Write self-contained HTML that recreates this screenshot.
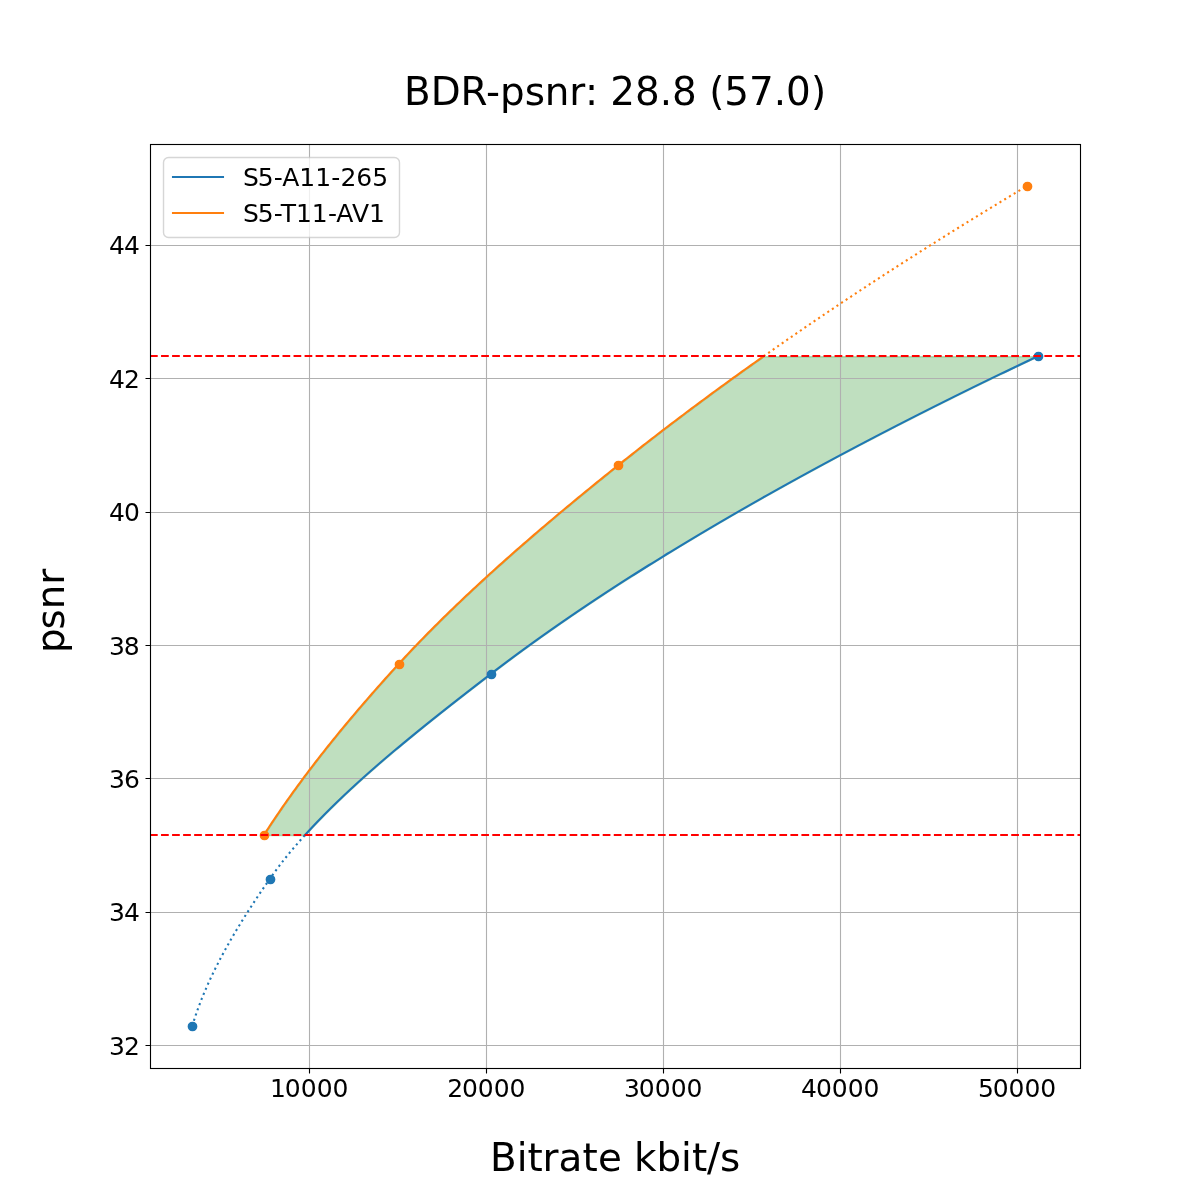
<!DOCTYPE html>
<html lang="en"><head><meta charset="utf-8"><title>BDR-psnr: 28.8 (57.0)</title>
<style>html,body{margin:0;padding:0;background:#fff}svg{display:block}text{font-family:"DejaVu Sans","Liberation Sans",sans-serif;fill:#000}</style></head><body>
<svg width="1200" height="1200" viewBox="0 0 1200 1200">
<rect width="1200" height="1200" fill="#fff"/>
<defs><clipPath id="ax"><rect x="150.5" y="144.5" width="930.0" height="924.0"/></clipPath></defs>
<path d="M264.4 835.5 L265.95 833.09 L267.51 830.69 L269.08 828.28 L270.66 825.88 L272.25 823.47 L273.86 821.06 L275.47 818.66 L277.1 816.25 L278.73 813.85 L280.38 811.44 L282.03 809.03 L283.7 806.63 L285.38 804.22 L287.07 801.82 L288.77 799.41 L290.48 797 L292.2 794.6 L293.93 792.19 L295.67 789.79 L297.42 787.38 L299.18 784.97 L300.95 782.57 L302.73 780.16 L304.52 777.76 L306.33 775.35 L308.14 772.94 L309.96 770.54 L311.79 768.13 L313.63 765.73 L315.48 763.32 L317.34 760.91 L319.2 758.51 L321.08 756.1 L322.97 753.69 L324.87 751.29 L326.77 748.88 L328.69 746.48 L330.61 744.07 L332.55 741.66 L334.49 739.26 L336.44 736.85 L338.4 734.45 L340.37 732.04 L342.35 729.63 L344.34 727.23 L346.34 724.82 L348.34 722.42 L350.36 720.01 L352.38 717.6 L354.41 715.2 L356.45 712.79 L358.5 710.39 L360.56 707.98 L362.62 705.57 L364.7 703.17 L366.78 700.76 L368.87 698.36 L370.97 695.95 L373.07 693.54 L375.19 691.14 L377.31 688.73 L379.44 686.33 L381.58 683.92 L383.72 681.51 L385.88 679.11 L388.04 676.7 L390.21 674.3 L392.38 671.89 L394.57 669.48 L396.76 667.08 L398.96 664.67 L401.17 662.27 L403.39 659.86 L405.63 657.45 L407.88 655.05 L410.14 652.64 L412.41 650.24 L414.7 647.83 L417 645.42 L419.32 643.02 L421.65 640.61 L423.98 638.21 L426.34 635.8 L428.7 633.39 L431.08 630.99 L433.47 628.58 L435.87 626.18 L438.28 623.77 L440.71 621.36 L443.15 618.96 L445.6 616.55 L448.06 614.15 L450.53 611.74 L453.02 609.33 L455.51 606.93 L458.02 604.52 L460.54 602.12 L463.07 599.71 L465.61 597.3 L468.16 594.9 L470.72 592.49 L473.3 590.08 L475.88 587.68 L478.48 585.27 L481.08 582.87 L483.7 580.46 L486.32 578.05 L488.96 575.65 L491.6 573.24 L494.26 570.84 L496.93 568.43 L499.6 566.02 L502.29 563.62 L504.99 561.21 L507.69 558.81 L510.41 556.4 L513.13 553.99 L515.86 551.59 L518.61 549.18 L521.36 546.78 L524.12 544.37 L526.89 541.96 L529.67 539.56 L532.45 537.15 L535.25 534.75 L538.05 532.34 L540.87 529.93 L543.69 527.53 L546.52 525.12 L549.35 522.72 L552.2 520.31 L555.05 517.9 L557.91 515.5 L560.78 513.09 L563.66 510.69 L566.55 508.28 L569.44 505.87 L572.34 503.47 L575.24 501.06 L578.16 498.66 L581.08 496.25 L584.01 493.84 L586.94 491.44 L589.88 489.03 L592.83 486.63 L595.79 484.22 L598.75 481.81 L601.72 479.41 L604.69 477 L607.67 474.6 L610.66 472.19 L613.66 469.78 L616.66 467.38 L619.66 464.97 L622.68 462.57 L625.7 460.16 L628.73 457.75 L631.77 455.35 L634.82 452.94 L637.88 450.54 L640.95 448.13 L644.03 445.72 L647.11 443.32 L650.21 440.91 L653.31 438.51 L656.43 436.1 L659.55 433.69 L662.68 431.29 L665.82 428.88 L668.97 426.47 L672.13 424.07 L675.3 421.66 L678.47 419.26 L681.66 416.85 L684.85 414.44 L688.06 412.04 L691.27 409.63 L694.49 407.23 L697.72 404.82 L700.96 402.41 L704.21 400.01 L707.47 397.6 L710.73 395.2 L714.01 392.79 L717.29 390.38 L720.59 387.98 L723.89 385.57 L727.2 383.17 L730.52 380.76 L733.85 378.35 L737.18 375.95 L740.53 373.54 L743.89 371.14 L747.25 368.73 L750.62 366.32 L754.01 363.92 L757.4 361.51 L760.8 359.11 L764.2 356.7 L1038.23 356.7 L1033.16 359.11 L1028.1 361.51 L1023.05 363.92 L1018.01 366.32 L1012.99 368.73 L1007.99 371.14 L1002.99 373.54 L998.01 375.95 L993.05 378.35 L988.09 380.76 L983.15 383.17 L978.23 385.57 L973.32 387.98 L968.42 390.38 L963.53 392.79 L958.66 395.2 L953.8 397.6 L948.96 400.01 L944.12 402.41 L939.31 404.82 L934.5 407.23 L929.71 409.63 L924.94 412.04 L920.18 414.44 L915.43 416.85 L910.69 419.26 L905.97 421.66 L901.26 424.07 L896.57 426.47 L891.89 428.88 L887.23 431.29 L882.58 433.69 L877.94 436.1 L873.31 438.51 L868.71 440.91 L864.11 443.32 L859.53 445.72 L854.96 448.13 L850.41 450.54 L845.87 452.94 L841.34 455.35 L836.83 457.75 L832.34 460.16 L827.86 462.57 L823.39 464.97 L818.93 467.38 L814.49 469.78 L810.07 472.19 L805.66 474.6 L801.26 477 L796.88 479.41 L792.51 481.81 L788.16 484.22 L783.82 486.63 L779.49 489.03 L775.18 491.44 L770.89 493.84 L766.61 496.25 L762.34 498.66 L758.09 501.06 L753.85 503.47 L749.63 505.87 L745.42 508.28 L741.23 510.69 L737.05 513.09 L732.88 515.5 L728.73 517.9 L724.6 520.31 L720.48 522.72 L716.37 525.12 L712.28 527.53 L708.21 529.93 L704.15 532.34 L700.1 534.75 L696.07 537.15 L692.05 539.56 L688.05 541.96 L684.06 544.37 L680.09 546.78 L676.14 549.18 L672.19 551.59 L668.27 553.99 L664.36 556.4 L660.46 558.81 L656.58 561.21 L652.71 563.62 L648.86 566.02 L645.02 568.43 L641.2 570.84 L637.4 573.24 L633.61 575.65 L629.83 578.05 L626.07 580.46 L622.33 582.87 L618.6 585.27 L614.88 587.68 L611.19 590.08 L607.5 592.49 L603.84 594.9 L600.18 597.3 L596.55 599.71 L592.92 602.12 L589.32 604.52 L585.73 606.93 L582.15 609.33 L578.59 611.74 L575.05 614.15 L571.52 616.55 L568.01 618.96 L564.51 621.36 L561.03 623.77 L557.56 626.18 L554.11 628.58 L550.68 630.99 L547.26 633.39 L543.86 635.8 L540.47 638.21 L537.1 640.61 L533.74 643.02 L530.4 645.42 L527.08 647.83 L523.77 650.24 L520.48 652.64 L517.2 655.05 L513.94 657.45 L510.7 659.86 L507.47 662.27 L504.26 664.67 L501.06 667.08 L497.88 669.48 L494.71 671.89 L491.57 674.3 L488.43 676.7 L485.3 679.11 L482.17 681.51 L479.04 683.92 L475.93 686.33 L472.81 688.73 L469.7 691.14 L466.6 693.54 L463.51 695.95 L460.42 698.36 L457.34 700.76 L454.26 703.17 L451.2 705.57 L448.14 707.98 L445.09 710.39 L442.04 712.79 L439.01 715.2 L435.99 717.6 L432.97 720.01 L429.97 722.42 L426.97 724.82 L423.99 727.23 L421.02 729.63 L418.05 732.04 L415.1 734.45 L412.16 736.85 L409.23 739.26 L406.32 741.66 L403.42 744.07 L400.53 746.48 L397.65 748.88 L394.79 751.29 L391.94 753.69 L389.1 756.1 L386.28 758.51 L383.48 760.91 L380.69 763.32 L377.91 765.73 L375.15 768.13 L372.41 770.54 L369.68 772.94 L366.97 775.35 L364.28 777.76 L361.6 780.16 L358.95 782.57 L356.31 784.97 L353.68 787.38 L351.08 789.79 L348.5 792.19 L345.93 794.6 L343.38 797 L340.86 799.41 L338.35 801.82 L335.87 804.22 L333.4 806.63 L330.96 809.03 L328.54 811.44 L326.14 813.85 L323.76 816.25 L321.4 818.66 L319.07 821.06 L316.76 823.47 L314.47 825.88 L312.21 828.28 L309.97 830.69 L307.75 833.09 L305.56 835.5Z" fill="#008000" fill-opacity="0.25" stroke="#008000" stroke-opacity="0.25" stroke-width="1.39"/>
<path d="M309.5 144.5 V1068.5 M486.5 144.5 V1068.5 M663.5 144.5 V1068.5 M840.5 144.5 V1068.5 M1017.5 144.5 V1068.5 M150.5 1045.5 H1080.5 M150.5 912.5 H1080.5 M150.5 778.5 H1080.5 M150.5 645.5 H1080.5 M150.5 512.5 H1080.5 M150.5 378.5 H1080.5 M150.5 245.5 H1080.5" stroke="#b0b0b0" stroke-width="1.11" fill="none"/>
<path d="M309.5 1068.5 v5 M486.5 1068.5 v5 M663.5 1068.5 v5 M840.5 1068.5 v5 M1017.5 1068.5 v5 M150.5 1045.5 h-5 M150.5 912.5 h-5 M150.5 778.5 h-5 M150.5 645.5 h-5 M150.5 512.5 h-5 M150.5 378.5 h-5 M150.5 245.5 h-5" stroke="#000" stroke-width="1.11" fill="none"/>
<g clip-path="url(#ax)" fill="none" stroke="#1f77b4" stroke-width="2.08" stroke-linejoin="round">
<path d="M305.06 835 L307.11 832.75 L309.18 830.5 L311.26 828.26 L313.37 826.01 L315.5 823.76 L317.65 821.51 L319.83 819.26 L322.02 817.02 L324.23 814.77 L326.46 812.52 L328.71 810.27 L330.97 808.03 L333.26 805.78 L335.56 803.53 L337.89 801.28 L340.23 799.03 L342.59 796.79 L344.96 794.54 L347.36 792.29 L349.76 790.04 L352.19 787.79 L354.63 785.55 L357.09 783.3 L359.57 781.05 L362.06 778.8 L364.56 776.55 L367.08 774.31 L369.62 772.06 L372.17 769.81 L374.73 767.56 L377.31 765.32 L379.9 763.07 L382.5 760.82 L385.12 758.57 L387.75 756.32 L390.4 754.08 L393.06 751.83 L395.72 749.58 L398.4 747.33 L401.1 745.08 L403.8 742.84 L406.52 740.59 L409.24 738.34 L411.98 736.09 L414.73 733.85 L417.48 731.6 L420.25 729.35 L423.03 727.1 L425.81 724.85 L428.61 722.61 L431.41 720.36 L434.23 718.11 L437.05 715.86 L439.88 713.61 L442.72 711.37 L445.56 709.12 L448.41 706.87 L451.27 704.62 L454.14 702.37 L457.01 700.13 L459.89 697.88 L462.78 695.63 L465.67 693.38 L468.56 691.14 L471.47 688.89 L474.37 686.64 L477.28 684.39 L480.2 682.14 L483.12 679.9 L486.05 677.65 L488.97 675.4 L491.91 673.15 L494.85 670.9 L497.81 668.66 L500.78 666.41 L503.77 664.16 L506.77 661.91 L509.79 659.66 L512.81 657.42 L515.86 655.17 L518.91 652.92 L521.98 650.67 L525.07 648.43 L528.17 646.18 L531.28 643.93 L534.41 641.68 L537.54 639.43 L540.7 637.19 L543.87 634.94 L547.05 632.69 L550.24 630.44 L553.45 628.19 L556.67 625.95 L559.91 623.7 L563.16 621.45 L566.42 619.2 L569.7 616.95 L572.99 614.71 L576.29 612.46 L579.61 610.21 L582.94 607.96 L586.29 605.72 L589.65 603.47 L593.02 601.22 L596.4 598.97 L599.8 596.72 L603.21 594.48 L606.64 592.23 L610.08 589.98 L613.53 587.73 L617 585.48 L620.48 583.24 L623.97 580.99 L627.48 578.74 L631 576.49 L634.53 574.25 L638.08 572 L641.64 569.75 L645.21 567.5 L648.79 565.25 L652.39 563.01 L656.01 560.76 L659.63 558.51 L663.27 556.26 L666.92 554.01 L670.59 551.77 L674.26 549.52 L677.96 547.27 L681.66 545.02 L685.38 542.77 L689.11 540.53 L692.85 538.28 L696.61 536.03 L700.38 533.78 L704.16 531.54 L707.95 529.29 L711.76 527.04 L715.58 524.79 L719.42 522.54 L723.27 520.3 L727.13 518.05 L731 515.8 L734.88 513.55 L738.78 511.3 L742.69 509.06 L746.62 506.81 L750.55 504.56 L754.5 502.31 L758.47 500.06 L762.44 497.82 L766.43 495.57 L770.43 493.32 L774.44 491.07 L778.47 488.83 L782.51 486.58 L786.56 484.33 L790.62 482.08 L794.7 479.83 L798.78 477.59 L802.89 475.34 L807 473.09 L811.13 470.84 L815.26 468.59 L819.42 466.35 L823.58 464.1 L827.75 461.85 L831.94 459.6 L836.14 457.35 L840.36 455.11 L844.58 452.86 L848.82 450.61 L853.07 448.36 L857.33 446.12 L861.61 443.87 L865.9 441.62 L870.19 439.37 L874.51 437.12 L878.83 434.88 L883.17 432.63 L887.51 430.38 L891.87 428.13 L896.25 425.88 L900.63 423.64 L905.03 421.39 L909.44 419.14 L913.86 416.89 L918.29 414.65 L922.74 412.4 L927.19 410.15 L931.66 407.9 L936.14 405.65 L940.64 403.41 L945.14 401.16 L949.66 398.91 L954.19 396.66 L958.73 394.41 L963.28 392.17 L967.85 389.92 L972.42 387.67 L977.01 385.42 L981.61 383.17 L986.22 380.93 L990.85 378.68 L995.48 376.43 L1000.13 374.18 L1004.79 371.94 L1009.46 369.69 L1014.14 367.44 L1018.84 365.19 L1023.54 362.94 L1028.26 360.7 L1032.99 358.45 L1037.73 356.2" stroke-linecap="square"/>
<path d="M192.27 1026 L192.95 1023.73 L193.66 1021.45 L194.38 1019.18 L195.13 1016.9 L195.89 1014.63 L196.68 1012.36 L197.48 1010.08 L198.3 1007.81 L199.14 1005.54 L200 1003.26 L200.88 1000.99 L201.78 998.71 L202.69 996.44 L203.63 994.17 L204.58 991.89 L205.55 989.62 L206.53 987.35 L207.54 985.07 L208.56 982.8 L209.59 980.52 L210.65 978.25 L211.72 975.98 L212.8 973.7 L213.9 971.43 L215.02 969.15 L216.15 966.88 L217.3 964.61 L218.47 962.33 L219.64 960.06 L220.84 957.79 L222.04 955.51 L223.27 953.24 L224.5 950.96 L225.75 948.69 L227.01 946.42 L228.29 944.14 L229.58 941.87 L230.88 939.6 L232.2 937.32 L233.53 935.05 L234.87 932.77 L236.22 930.5 L237.59 928.23 L238.96 925.95 L240.35 923.68 L241.75 921.4 L243.16 919.13 L244.59 916.86 L246.02 914.58 L247.46 912.31 L248.92 910.04 L250.38 907.76 L251.86 905.49 L253.34 903.21 L254.83 900.94 L256.34 898.67 L257.85 896.39 L259.37 894.12 L260.9 891.85 L262.44 889.57 L263.99 887.3 L265.54 885.02 L267.11 882.75 L268.68 880.48 L270.26 878.2 L271.86 875.93 L273.49 873.65 L275.14 871.38 L276.83 869.11 L278.54 866.83 L280.27 864.56 L282.03 862.29 L283.82 860.01 L285.63 857.74 L287.46 855.46 L289.33 853.19 L291.21 850.92 L293.12 848.64 L295.05 846.37 L297.01 844.1 L298.99 841.82 L300.99 839.55 L303.01 837.27 L305.06 835" stroke-dasharray="2.0833 3.4375"/>
</g>
<g fill="#1f77b4" stroke="#1f77b4" stroke-width="1.39">
<circle cx="192.5" cy="1026.5" r="4.17"/>
<circle cx="270.5" cy="879.5" r="4.17"/>
<circle cx="491.5" cy="674.5" r="4.17"/>
<circle cx="1038.5" cy="356.5" r="4.17"/>
</g>
<g clip-path="url(#ax)" fill="none" stroke="#ff7f0e" stroke-width="2.08" stroke-linejoin="round">
<path d="M263.9 835 L265.3 832.82 L266.71 830.65 L268.13 828.47 L269.55 826.29 L270.99 824.12 L272.44 821.94 L273.89 819.77 L275.35 817.59 L276.83 815.41 L278.31 813.24 L279.8 811.06 L281.29 808.88 L282.8 806.71 L284.32 804.53 L285.84 802.35 L287.37 800.18 L288.91 798 L290.46 795.83 L292.02 793.65 L293.59 791.47 L295.16 789.3 L296.75 787.12 L298.34 784.94 L299.94 782.77 L301.54 780.59 L303.16 778.41 L304.78 776.24 L306.42 774.06 L308.06 771.89 L309.71 769.71 L311.36 767.53 L313.03 765.36 L314.7 763.18 L316.38 761 L318.07 758.83 L319.76 756.65 L321.47 754.47 L323.18 752.3 L324.89 750.12 L326.62 747.95 L328.36 745.77 L330.1 743.59 L331.85 741.42 L333.6 739.24 L335.37 737.06 L337.14 734.89 L338.92 732.71 L340.7 730.53 L342.49 728.36 L344.29 726.18 L346.1 724.01 L347.92 721.83 L349.74 719.65 L351.57 717.48 L353.4 715.3 L355.25 713.12 L357.1 710.95 L358.95 708.77 L360.82 706.59 L362.69 704.42 L364.56 702.24 L366.45 700.07 L368.34 697.89 L370.24 695.71 L372.14 693.54 L374.05 691.36 L375.97 689.18 L377.89 687.01 L379.82 684.83 L381.76 682.65 L383.7 680.48 L385.65 678.3 L387.61 676.13 L389.57 673.95 L391.54 671.77 L393.51 669.6 L395.49 667.42 L397.48 665.24 L399.47 663.07 L401.47 660.89 L403.49 658.71 L405.51 656.54 L407.55 654.36 L409.6 652.19 L411.65 650.01 L413.72 647.83 L415.8 645.66 L417.89 643.48 L419.99 641.3 L422.1 639.13 L424.22 636.95 L426.35 634.77 L428.49 632.6 L430.64 630.42 L432.81 628.25 L434.98 626.07 L437.16 623.89 L439.35 621.72 L441.55 619.54 L443.76 617.36 L445.98 615.19 L448.21 613.01 L450.45 610.83 L452.7 608.66 L454.96 606.48 L457.22 604.31 L459.5 602.13 L461.78 599.95 L464.08 597.78 L466.38 595.6 L468.7 593.42 L471.02 591.25 L473.35 589.07 L475.69 586.89 L478.03 584.72 L480.39 582.54 L482.76 580.37 L485.13 578.19 L487.51 576.01 L489.9 573.84 L492.3 571.66 L494.71 569.48 L497.12 567.31 L499.54 565.13 L501.97 562.95 L504.41 560.78 L506.86 558.6 L509.31 556.43 L511.77 554.25 L514.24 552.07 L516.72 549.9 L519.2 547.72 L521.7 545.54 L524.2 543.37 L526.7 541.19 L529.22 539.01 L531.74 536.84 L534.27 534.66 L536.8 532.49 L539.34 530.31 L541.89 528.13 L544.45 525.96 L547.01 523.78 L549.58 521.6 L552.15 519.43 L554.73 517.25 L557.32 515.07 L559.92 512.9 L562.52 510.72 L565.13 508.55 L567.74 506.37 L570.36 504.19 L572.99 502.02 L575.62 499.84 L578.25 497.66 L580.9 495.49 L583.55 493.31 L586.2 491.13 L588.86 488.96 L591.53 486.78 L594.2 484.61 L596.88 482.43 L599.56 480.25 L602.25 478.08 L604.94 475.9 L607.64 473.72 L610.34 471.55 L613.05 469.37 L615.76 467.19 L618.48 465.02 L621.2 462.84 L623.93 460.67 L626.67 458.49 L629.42 456.31 L632.17 454.14 L634.93 451.96 L637.7 449.78 L640.48 447.61 L643.26 445.43 L646.05 443.25 L648.85 441.08 L651.66 438.9 L654.47 436.73 L657.29 434.55 L660.12 432.37 L662.95 430.2 L665.79 428.02 L668.64 425.84 L671.5 423.67 L674.37 421.49 L677.24 419.31 L680.12 417.14 L683 414.96 L685.9 412.79 L688.8 410.61 L691.71 408.43 L694.62 406.26 L697.55 404.08 L700.48 401.9 L703.41 399.73 L706.36 397.55 L709.31 395.37 L712.27 393.2 L715.24 391.02 L718.21 388.85 L721.2 386.67 L724.18 384.49 L727.18 382.32 L730.18 380.14 L733.2 377.96 L736.21 375.79 L739.24 373.61 L742.27 371.43 L745.31 369.26 L748.36 367.08 L751.41 364.91 L754.48 362.73 L757.54 360.55 L760.62 358.38 L763.7 356.2" stroke-linecap="square"/>
<path d="M763.7 356.2 L766.84 353.99 L769.99 351.78 L773.14 349.57 L776.31 347.36 L779.47 345.15 L782.65 342.94 L785.83 340.73 L789.03 338.52 L792.23 336.31 L795.43 334.1 L798.64 331.89 L801.87 329.68 L805.09 327.46 L808.33 325.25 L811.57 323.04 L814.82 320.83 L818.08 318.62 L821.35 316.41 L824.62 314.2 L827.9 311.99 L831.19 309.78 L834.49 307.57 L837.79 305.36 L841.1 303.15 L844.42 300.94 L847.74 298.73 L851.07 296.52 L854.41 294.31 L857.76 292.1 L861.11 289.89 L864.47 287.68 L867.84 285.47 L871.22 283.26 L874.6 281.05 L877.99 278.84 L881.39 276.63 L884.8 274.42 L888.21 272.21 L891.63 269.99 L895.06 267.78 L898.49 265.57 L901.94 263.36 L905.39 261.15 L908.84 258.94 L912.31 256.73 L915.78 254.52 L919.26 252.31 L922.74 250.1 L926.24 247.89 L929.74 245.68 L933.25 243.47 L936.76 241.26 L940.28 239.05 L943.81 236.84 L947.35 234.63 L950.9 232.42 L954.45 230.21 L958.01 228 L961.57 225.79 L965.15 223.58 L968.73 221.37 L972.31 219.16 L975.91 216.95 L979.51 214.74 L983.12 212.52 L986.74 210.31 L990.36 208.1 L993.99 205.89 L997.63 203.68 L1001.28 201.47 L1004.93 199.26 L1008.59 197.05 L1012.26 194.84 L1015.93 192.63 L1019.61 190.42 L1023.3 188.21 L1027 186" stroke-dasharray="2.0833 3.4375"/>
</g>
<g fill="#ff7f0e" stroke="#ff7f0e" stroke-width="1.39">
<circle cx="264.5" cy="835.5" r="4.17"/>
<circle cx="399.5" cy="664.5" r="4.17"/>
<circle cx="618.5" cy="465.5" r="4.17"/>
<circle cx="1027.5" cy="186.5" r="4.17"/>
</g>
<path d="M150 835 H1080" stroke="#ff0000" stroke-width="2.08" stroke-dasharray="7.7083 3.3333" fill="none"/>
<path d="M150 356 H1080" stroke="#ff0000" stroke-width="2.08" stroke-dasharray="7.7083 3.3333" fill="none"/>
<rect x="150.5" y="144.5" width="930.0" height="924.0" fill="none" stroke="#000" stroke-width="1.11" stroke-linejoin="miter"/>
<rect x="163.5" y="157.5" width="236" height="80" rx="5" ry="5" fill="#fff" stroke="#ccc" stroke-width="1.39" opacity="0.8"/>
<path d="M173 177 H223" stroke="#1f77b4" stroke-width="2.08" stroke-linecap="square" fill="none"/>
<path d="M173 213 H223" stroke="#ff7f0e" stroke-width="2.08" stroke-linecap="square" fill="none"/>
<text x="269.99 284.85 300.78 316.68 332.6" y="1096.72" font-size="25">10000</text>
<text x="447.26 462.11 477.77 493.68 509.6" y="1096.72" font-size="25">20000</text>
<text x="624.11 638.85 654.78 670.68 686.6" y="1096.72" font-size="25">30000</text>
<text x="801.06 816.11 831.77 847.68 863.6" y="1096.72" font-size="25">40000</text>
<text x="977.88 992.85 1008.54 1024.44 1040.36" y="1096.72" font-size="25">50000</text>
<text x="490.02 516.69 527.56 542.61 558.52 582.61 597.89 622.02 634.01 656.56 680.97 691.88 706.94 720.11" y="1171.36" font-size="38.89">Bitrate kbit/s</text>
<text x="109.09 124.12" y="1054.58" font-size="25">32</text>
<text x="109.09 123.96" y="921.22" font-size="25">34</text>
<text x="109.09 123.93" y="787.86" font-size="25">36</text>
<text x="109.09 123.86" y="654.5" font-size="25">38</text>
<text x="109.02 124.09" y="521.14" font-size="25">40</text>
<text x="109.02 124.12" y="387.78" font-size="25">42</text>
<text x="109.02 123.92" y="254.42" font-size="25">44</text>
<text x="22.61 46.18 66.41 90.91" y="611.06" font-size="38.89" transform="rotate(-90 64.49 611.06)">psnr</text>
<text x="404.09 430.77 460.57 486.04 500.08 524.78 544.82 569.31 584.89 598.43 610.3 634.92 659.68 672.01 697.34 709.16 724.35 749.09 773.77 786.1 811" y="105.11" font-size="38.89">BDR-psnr: 28.8 (57.0)</text>
<text x="243.03 257.76 273.77 282.27 299.32 315.22 331.2 340.44 356.18 372.13" y="185.5" font-size="25">S5-A11-265</text>
<text x="243.03 257.76 273.78 280.82 296 311.66 327.88 336.16 351.94 368.94" y="222.19" font-size="25">S5-T11-AV1</text>
</svg></body></html>
